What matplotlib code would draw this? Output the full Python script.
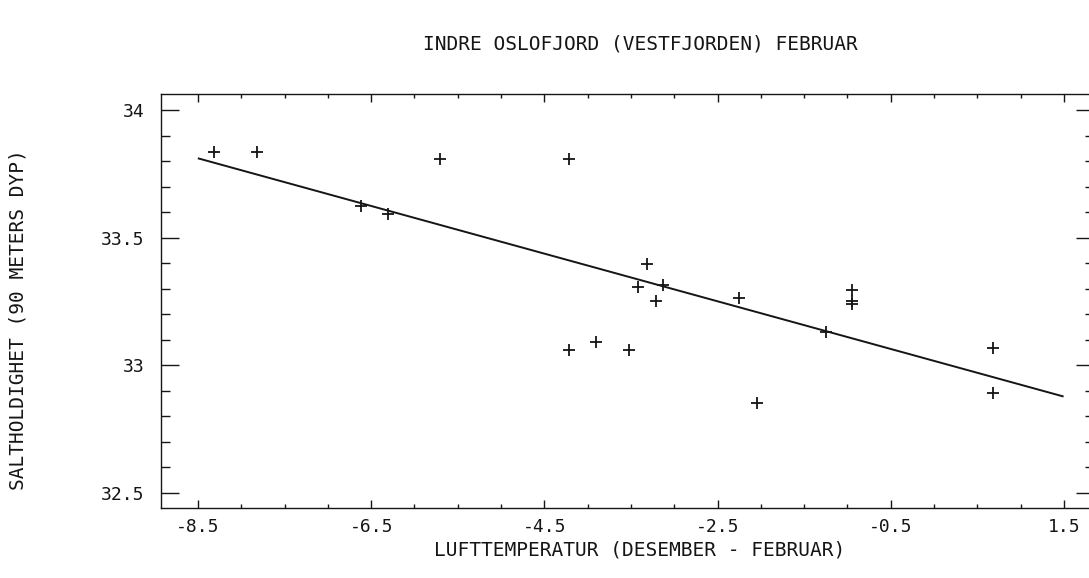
import numpy as np
import matplotlib
matplotlib.use("Agg")
import matplotlib.pyplot as plt
from matplotlib.ticker import MultipleLocator

# lufttemperatur (des-feb) vs salinity at 90 m
temp = [-8.31, -7.82, -6.62, -6.31, -5.71, -4.22, -4.21, -3.90, -3.52, -3.32, -3.42,
        -3.215, -3.13, -2.25, -2.04, -1.25, -0.95, -0.95, -0.95, 0.68, 0.68]
salt = [33.836, 33.836, 33.625, 33.593, 33.808, 33.810, 33.059, 33.089, 33.059, 33.395, 33.305,
        33.251, 33.314, 33.264, 32.852, 33.131, 33.296, 33.252, 33.240, 33.067, 32.891]

# regression line end points
fit_x = [-8.49, 1.485]
fit_y = [33.81, 32.878]

xticks = [-8.5, -6.5, -4.5, -2.5, -0.5, 1.5]
yticks = [32.5, 33, 33.5, 34]

plt.rcParams['font.family'] = ['DejaVu Sans Mono']
ink = '#151515'

fig = plt.figure(figsize=(10.89, 5.78), dpi=100)
ax = fig.add_axes([0.1478, 0.1211, 0.8567, 0.7163])

ax.plot(fit_x, fit_y, '-', color=ink, lw=1.4)
ax.plot(temp, salt, '+', color=ink, ms=8, mew=1.3)

ax.set_xlim(-8.927, 1.846)
ax.set_ylim(32.44, 34.063)

ax.set_xticks(xticks)
ax.set_xticklabels(['%.1f' % v for v in xticks])
ax.set_yticks(yticks)
ax.set_yticklabels(['32.5', '33', '33.5', '34'])
ax.xaxis.set_minor_locator(MultipleLocator(0.5))
ax.yaxis.set_minor_locator(MultipleLocator(0.1))

ax.tick_params(axis='both', which='both', direction='in', top=True, right=True,
               colors=ink, width=1, labelsize=13)
ax.tick_params(axis='x', which='major', length=5.8, pad=7)
ax.tick_params(axis='x', which='minor', length=2.9)
ax.tick_params(axis='y', which='major', length=13, pad=12)
ax.tick_params(axis='y', which='minor', length=6.5)

for s in ax.spines.values():
    s.set_color(ink)
    s.set_linewidth(1)

fig.text(640/1089, 1 - 44/578, 'INDRE OSLOFJORD (VESTFJORDEN) FEBRUAR',
         ha='center', va='center', fontsize=14, color=ink)
fig.text(640/1089, 1 - 550/578, 'LUFTTEMPERATUR (DESEMBER - FEBRUAR)',
         ha='center', va='center', fontsize=14, color=ink)
fig.text(18/1089, 1 - 320/578, 'SALTHOLDIGHET (90 METERS DYP)', rotation=90,
         ha='center', va='center', fontsize=14, color=ink)

fig.savefig('out.png', dpi=100)
